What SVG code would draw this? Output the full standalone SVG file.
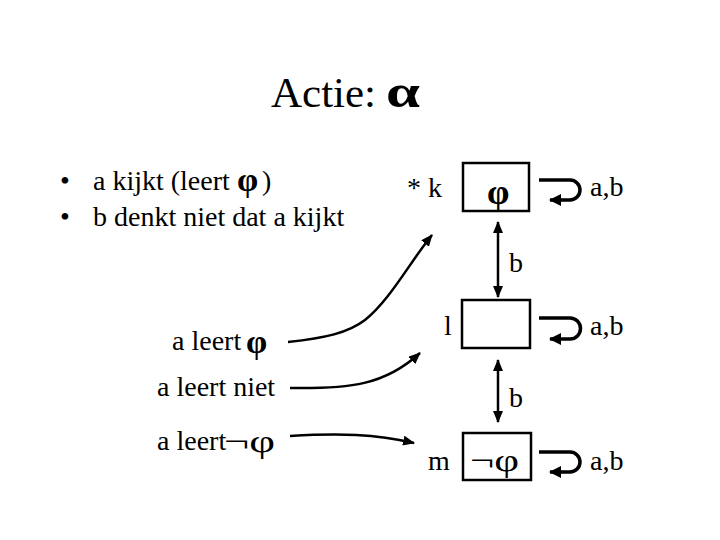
<svg xmlns="http://www.w3.org/2000/svg" width="720" height="540" viewBox="0 0 720 540" font-family="'Liberation Serif', 'Times New Roman', 'DejaVu Serif', serif">
<style>
text{font-family:'Liberation Serif','Times New Roman','DejaVu Serif',serif;fill:#000}
.t{font-size:28px}
.phb{font-size:34px;font-weight:bold}
.box{fill:#fff;stroke:#000;stroke-width:2.5}
.ln{fill:none;stroke:#000;stroke-width:2.5}
.loop{fill:none;stroke:#000;stroke-width:3.5}
</style>
<defs>
<marker id="ah" viewBox="0 0 12 10" refX="11" refY="5" markerWidth="12" markerHeight="10" markerUnits="userSpaceOnUse" orient="auto-start-reverse">
<path d="M0,0 L12,5 L0,10 Z" fill="#000"/>
</marker>
<marker id="ahl" viewBox="0 0 12 12" refX="11" refY="6" markerWidth="12" markerHeight="12" markerUnits="userSpaceOnUse" orient="auto">
<path d="M0,0 L12,6 L0,12 Z" fill="#000"/>
</marker>
</defs>
<rect width="720" height="540" fill="#fff"/>
<g id="title">
<text x="271" y="107" font-size="43">Actie:</text>
<text x="386" y="107" font-size="46" font-weight="bold" textLength="34" lengthAdjust="spacingAndGlyphs">α</text>
</g>
<g id="bullets">
<text x="60" y="190" class="t">•</text>
<text x="93" y="190" class="t">a kijkt (leert</text>
<text x="237" y="191" class="phb">φ</text>
<text x="262" y="190" class="t">)</text>
<text x="60" y="226" class="t">•</text>
<text x="93" y="226" class="t">b denkt niet dat a kijkt</text>
</g>
<g id="node-k">
<rect class="box" x="463" y="163" width="66" height="48"/>
<text x="487" y="204" font-size="36" font-weight="bold">φ</text>
<text x="407" y="197" class="t">* k</text>
</g>
<g id="node-l">
<rect class="box" x="462" y="300" width="68" height="48"/>
<text x="444" y="335" class="t">l</text>
</g>
<g id="node-m">
<rect class="box" x="463" y="433" width="68" height="47"/>
<text x="470" y="471" font-size="32" textLength="49" lengthAdjust="spacingAndGlyphs">¬φ</text>
<text x="428" y="470" class="t">m</text>
</g>
<g id="labels-left">
<text x="172" y="350" class="t">a leert</text>
<text x="246" y="353" class="phb">φ</text>
<text x="157" y="396" class="t">a leert niet</text>
<text x="157" y="450" class="t">a leert</text>
<text x="224" y="452" font-size="32" textLength="51" lengthAdjust="spacingAndGlyphs">¬φ</text>
</g>
<g id="connectors">
<path class="loop" d="M539,180 H570 A10,10 0 0 1 570,200 H550" marker-end="url(#ahl)"/>
<path class="loop" d="M539,318 H570 A10.5,10.5 0 0 1 570,339 H550" marker-end="url(#ahl)"/>
<path class="loop" d="M539,452 H570 A10,10 0 0 1 570,472 H550" marker-end="url(#ahl)"/>
<path class="ln" d="M498,222 V297" marker-start="url(#ah)" marker-end="url(#ah)"/>
<path class="ln" d="M498,360 V422" marker-start="url(#ah)" marker-end="url(#ah)"/>
<path class="ln" d="M288,342 C325,338 348,333 365,320 C390,300 410,262 432,235" marker-end="url(#ah)"/>
<path class="ln" d="M290,388 C350,389 385,385 420,353" marker-end="url(#ah)"/>
<path class="ln" d="M290,436 C340,433 375,434 414,443" marker-end="url(#ah)"/>
</g>
<g id="edge-labels">
<text x="590" y="196" class="t">a,b</text>
<text x="590" y="335" class="t">a,b</text>
<text x="590" y="470" class="t">a,b</text>
<text x="509" y="272" class="t">b</text>
<text x="509" y="407" class="t">b</text>
</g>
</svg>
